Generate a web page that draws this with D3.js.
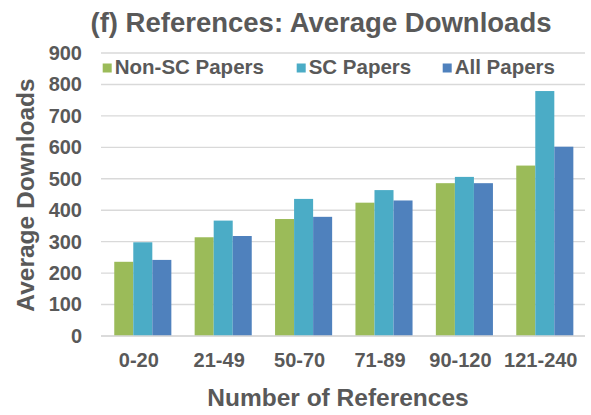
<!DOCTYPE html>
<html>
<head>
<meta charset="utf-8">
<script src="https://cdn.jsdelivr.net/npm/d3@7"></script>
<style>
  html, body { margin: 0; padding: 0; background: #fff; }
  svg { display: block; font-family: "Liberation Sans", Arial, sans-serif; font-weight: bold; }
</style>
</head>
<body>
<svg id="chart" width="591" height="415"></svg>
<script>
const categories = ["0-20", "21-49", "50-70", "71-89", "90-120", "121-240"];
const seriesNames = ["Non-SC Papers", "SC Papers", "All Papers"];
const nonScValues = [236, 314, 372, 424, 486, 542];
const scValues = [298, 367, 436, 464, 506, 779];
const allValues = [242, 318, 379, 431, 486, 602];
const yTicks = [0, 100, 200, 300, 400, 500, 600, 700, 800, 900];
const colors = ["#9BBB59", "#4BACC6", "#4F81BD"];

const seriesValues = [nonScValues, scValues, allValues];
const rows = categories.map((c, i) => ({
  category: c,
  values: seriesNames.map((s, j) => ({ key: s, value: seriesValues[j][i] }))
}));

const svg = d3.select("#chart");
const textColor = "#595959";
const gridColor = "#d9d9d9";

const x = d3.scaleBand().domain(categories).range([102.6, 585]).paddingInner(0.29).paddingOuter(0.145);
const xs = d3.scaleBand().domain(seriesNames).range([0, x.bandwidth()]);
const y = d3.scaleLinear().domain([0, 900]).range([336, 53]);
const color = d3.scaleOrdinal().domain(seriesNames).range(colors);

// gridlines
svg.append("g").selectAll("line").data(yTicks).join("line")
  .attr("x1", 101).attr("x2", 585)
  .attr("y1", d => y(d)).attr("y2", d => y(d))
  .attr("stroke", gridColor).attr("stroke-width", 1.4);

// y tick labels
const yAxis = d3.axisLeft(y).tickValues(yTicks).tickSize(0).tickPadding(0);
const gy = svg.append("g").attr("transform", "translate(82,0)").call(yAxis);
gy.select(".domain").remove();
gy.selectAll("text").attr("fill", textColor).attr("font-size", 20)
  .attr("font-family", "Liberation Sans, Arial, sans-serif").attr("font-weight", "bold");

// bars
const groups = svg.append("g").selectAll("g").data(rows).join("g")
  .attr("transform", d => `translate(${x(d.category)},0)`);
groups.selectAll("rect").data(d => d.values).join("rect")
  .attr("x", d => xs(d.key)).attr("width", xs.bandwidth())
  .attr("y", d => y(d.value)).attr("height", d => y(0) - y(d.value))
  .attr("fill", d => color(d.key));

// x axis
const xAxis = d3.axisBottom(x).tickSize(0).tickPadding(0);
const gx = svg.append("g").attr("transform", `translate(0,${y(0)})`).call(xAxis);
gx.select(".domain").attr("stroke", gridColor).attr("stroke-width", 1.4)
  .attr("d", `M101,0H585`);
gx.selectAll("text").attr("fill", textColor).attr("font-size", 20)
  .attr("font-family", "Liberation Sans, Arial, sans-serif").attr("font-weight", "bold")
  .attr("dy", null).attr("y", 31).attr("dx", -4);

// title
svg.append("text").attr("x", 321).attr("y", 32).attr("text-anchor", "middle")
  .attr("font-size", 27.5).attr("fill", textColor)
  .text("(f) References: Average Downloads");

// axis titles
svg.append("text").attr("x", 338).attr("y", 406).attr("text-anchor", "middle")
  .attr("font-size", 24.5).attr("fill", textColor).text("Number of References");
svg.append("text").attr("transform", "translate(34,195) rotate(-90)")
  .attr("text-anchor", "middle").attr("font-size", 24.5).attr("fill", textColor)
  .text("Average Downloads");

// legend
const legendX = [102.7, 296.7, 442.7];
const legend = svg.append("g").selectAll("g").data(seriesNames).join("g")
  .attr("transform", (d, i) => `translate(${legendX[i]},0)`);
legend.append("rect").attr("x", 0).attr("y", 63.5).attr("width", 9).attr("height", 9)
  .attr("fill", d => color(d));
legend.append("text").attr("x", 12).attr("y", 74).attr("font-size", 20.5)
  .attr("fill", textColor).text(d => d);
</script>
</body>
</html>
